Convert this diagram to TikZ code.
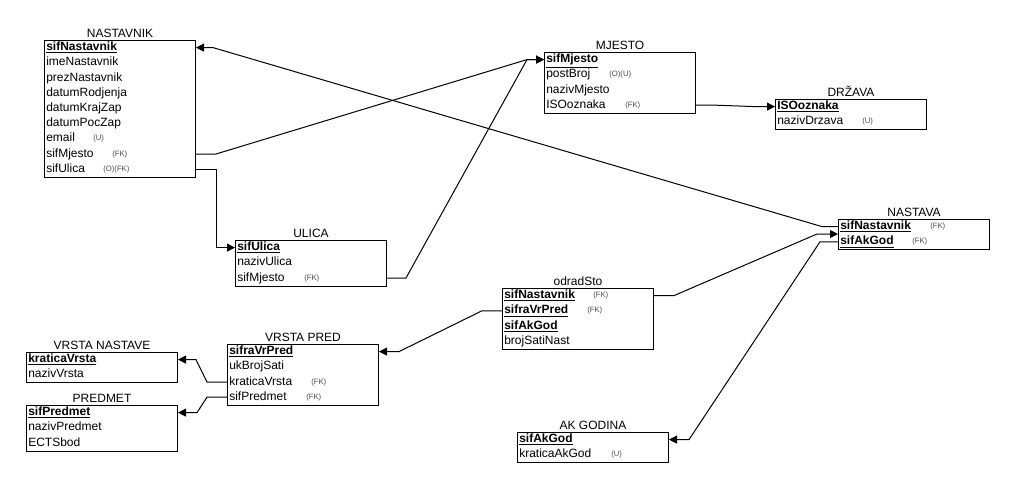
\documentclass[tikz,border=0pt]{standalone}
\usepackage{fontspec}
\setmainfont{Liberation Sans}
\usetikzlibrary{arrows.meta}
\newcommand{\pk}[1]{\underline{\textbf{#1}}}
\begin{document}
\begin{tikzpicture}[x=0.75pt,y=-0.75pt,
  tbox/.style={draw,line width=0.75pt,anchor=north west,inner sep=0pt,minimum width=113.25pt},
  r2/.style={tbox,minimum height=22.8pt},
  r3/.style={tbox,minimum height=34.2pt},
  r4/.style={tbox,minimum height=45.6pt},
  r9/.style={tbox,minimum height=102.6pt},
  ttl/.style={anchor=base,inner sep=0pt,font=\fontsize{9}{10}\selectfont},
  rw/.style={anchor=west,inner sep=0pt,text height=6.6pt,text depth=1.9pt,font=\fontsize{9}{10}\selectfont},
  tag/.style={anchor=west,inner sep=0pt,text=black!70,font=\fontsize{5.8}{6.5}\selectfont},
  conn/.style={draw,line width=0.75pt,-{Triangle[length=6pt,width=6pt]}}]
\useasboundingbox (0,0) rectangle (1014,489);
\fill[white] (0,0) rectangle (1014,489);

% NASTAVNIK
\node[r9] (nastavnik) at (44,40) {};
\node[ttl] (t-nastavnik) at ([yshift=2pt]nastavnik.north) {NASTAVNIK};
\node[rw] (nastavnik-1) at (46,47.6) {\pk{sifNastavnik}};
\node[rw] (nastavnik-2) at (46,62.8) {imeNastavnik};
\node[rw] (nastavnik-3) at (46,78) {prezNastavnik};
\node[rw] (nastavnik-4) at (46,93.2) {datumRodjenja};
\node[rw] (nastavnik-5) at (46,108.4) {datumKrajZap};
\node[rw] (nastavnik-6) at (46,123.6) {datumPocZap};
\node[rw] (nastavnik-7) at (46,138.8) {email};
\node[rw] (nastavnik-8) at (46,154) {sifMjesto};
\node[rw] (nastavnik-9) at (46,169.2) {sifUlica};
\node[tag] (nastavnik-7t) at (93,138.8) {(U)};
\node[tag] (nastavnik-8t) at (112,154) {(FK)};
\node[tag] (nastavnik-9t) at (103,169.2) {(O)(FK)};

% MJESTO
\node[r4] (mjesto) at (544,52) {};
\node[ttl] (t-mjesto) at ([yshift=2pt]mjesto.north) {MJESTO};
\node[rw] (mjesto-1) at (546,59.6) {\pk{sifMjesto}};
\node[rw] (mjesto-2) at (546,74.8) {postBroj};
\node[rw] (mjesto-3) at (546,90) {nazivMjesto};
\node[rw] (mjesto-4) at (546,105.2) {ISOoznaka};
\node[tag] (mjesto-2t) at (609,74.8) {(O)(U)};
\node[tag] (mjesto-4t) at (625,105.2) {(FK)};

% DRZAVA
\node[r2] (drzava) at (775,99) {};
\node[ttl] (t-drzava) at ([yshift=2pt]drzava.north) {DRŽAVA};
\node[rw] (drzava-1) at (777,106.6) {\pk{ISOoznaka}};
\node[rw] (drzava-2) at (777,121.8) {nazivDrzava};
\node[tag] (drzava-2t) at (862,121.8) {(U)};

% NASTAVA
\node[r2] (nastava) at (838,219) {};
\node[ttl] (t-nastava) at ([yshift=2pt]nastava.north) {NASTAVA};
\node[rw] (nastava-1) at (840,226.6) {\pk{sifNastavnik}};
\node[rw] (nastava-2) at (840,241.8) {\pk{sifAkGod}};
\node[tag] (nastava-1t) at (930,226.6) {(FK)};
\node[tag] (nastava-2t) at (912,241.8) {(FK)};

% ULICA
\node[r3] (ulica) at (235,240) {};
\node[ttl] (t-ulica) at ([yshift=2pt]ulica.north) {ULICA};
\node[rw] (ulica-1) at (237,247.6) {\pk{sifUlica}};
\node[rw] (ulica-2) at (237,262.8) {nazivUlica};
\node[rw] (ulica-3) at (237,278) {sifMjesto};
\node[tag] (ulica-3t) at (304,278) {(FK)};

% odradSto
\node[r4] (odradsto) at (502,288) {};
\node[ttl] (t-odradsto) at ([yshift=2pt]odradsto.north) {odradSto};
\node[rw] (odradsto-1) at (504,295.6) {\pk{sifNastavnik}};
\node[rw] (odradsto-2) at (504,310.8) {\pk{sifraVrPred}};
\node[rw] (odradsto-3) at (504,326) {\pk{sifAkGod}};
\node[rw] (odradsto-4) at (504,341.2) {brojSatiNast};
\node[tag] (odradsto-1t) at (593,295.6) {(FK)};
\node[tag] (odradsto-2t) at (587,310.8) {(FK)};

% VRSTA PRED
\node[r4] (vrstapred) at (227,344) {};
\node[ttl] (t-vrstapred) at ([yshift=2pt]vrstapred.north) {VRSTA PRED};
\node[rw] (vrstapred-1) at (229,351.6) {\pk{sifraVrPred}};
\node[rw] (vrstapred-2) at (229,366.8) {ukBrojSati};
\node[rw] (vrstapred-3) at (229,382) {kraticaVrsta};
\node[rw] (vrstapred-4) at (229,397.2) {sifPredmet};
\node[tag] (vrstapred-3t) at (311,382) {(FK)};
\node[tag] (vrstapred-4t) at (306,397.2) {(FK)};

% VRSTA NASTAVE
\node[r2] (vrstanastave) at (26,352) {};
\node[ttl] (t-vrstanastave) at ([yshift=2pt]vrstanastave.north) {VRSTA NASTAVE};
\node[rw] (vrstanastave-1) at (28,359.6) {\pk{kraticaVrsta}};
\node[rw] (vrstanastave-2) at (28,374.8) {nazivVrsta};

% PREDMET
\node[r3] (predmet) at (26,405) {};
\node[ttl] (t-predmet) at ([yshift=2pt]predmet.north) {PREDMET};
\node[rw] (predmet-1) at (28,412.6) {\pk{sifPredmet}};
\node[rw] (predmet-2) at (28,427.8) {nazivPredmet};
\node[rw] (predmet-3) at (28,443) {ECTSbod};

% AK GODINA
\node[r2] (akgodina) at (517,432) {};
\node[ttl] (t-akgodina) at ([yshift=2pt]akgodina.north) {AK GODINA};
\node[rw] (akgodina-1) at (519,439.6) {\pk{sifAkGod}};
\node[rw] (akgodina-2) at (519,454.8) {kraticaAkGod};
\node[tag] (akgodina-2t) at (611,454.8) {(U)};

% junction coordinates
\coordinate (jm) at (527,59.6);
\coordinate (jn) at (213,47.6);
\coordinate (jd) at (755,106.6);
\coordinate (jo) at (817,234);

% connectors
\draw[conn] (nastavnik.east |- nastavnik-8) -- ++(20,0) -- (jm) -- (mjesto.west |- mjesto-1);
\draw[conn] (ulica.east |- ulica-3) -- ++(19,0) -- (jm) -- (mjesto.west |- mjesto-1);
\draw[conn] (nastavnik.east |- nastavnik-9) -- ++(20,0) |- (ulica.west |- ulica-1);
\draw[conn] (mjesto.east |- mjesto-4) -- ++(20,0) -- (jd) -- (drzava.west |- drzava-1);
\draw[conn] (nastava.west |- nastava-1) -- ++(-16,0) -- (jn) -- (nastavnik.east |- nastavnik-1);
\draw[conn] (odradsto.east |- odradsto-1) -- ++(20,0) -- (jo) -- (nastava.west |- jo);
\draw[conn] (nastava.west |- nastava-2) -- ++(-18,0) -- ([xshift=20*0.75pt]akgodina.east |- akgodina-1) -- (akgodina.east |- akgodina-1);
\draw[conn] (odradsto.west |- odradsto-2) -- ++(-20,0) -- ([xshift=20*0.75pt]vrstapred.east |- vrstapred-1) -- (vrstapred.east |- vrstapred-1);
\draw[conn] (vrstapred.west |- vrstapred-3) -- ++(-20,0) -- ([xshift=18*0.75pt]vrstanastave.east |- vrstanastave-1) -- (vrstanastave.east |- vrstanastave-1);
\draw[conn] (vrstapred.west |- vrstapred-4) -- ++(-20,0) -- ([xshift=19*0.75pt]predmet.east |- predmet-1) -- (predmet.east |- predmet-1);
\end{tikzpicture}
\end{document}
